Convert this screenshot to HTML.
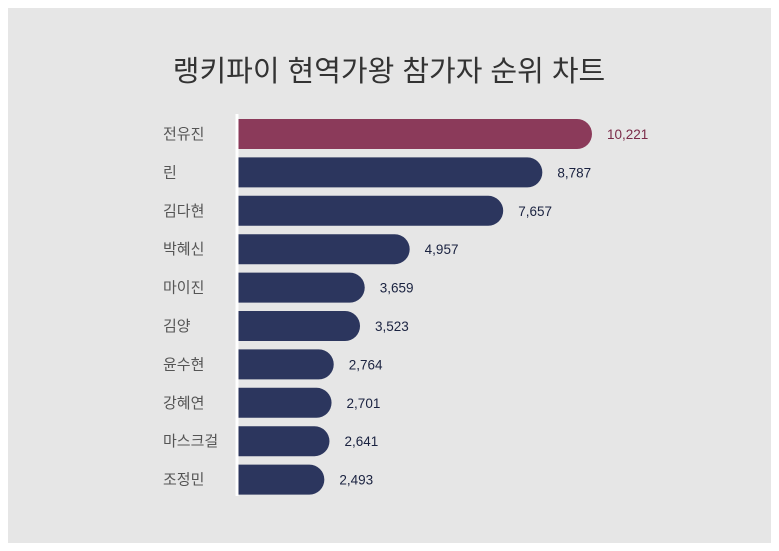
<!DOCTYPE html>
<html><head><meta charset="utf-8"><style>
body{margin:0;background:#fff;}
svg{display:block;font-family:"Liberation Sans","Noto Sans CJK KR",sans-serif;}
</style></head><body>
<svg width="779" height="551">
<rect x="8" y="8" width="763" height="535" fill="#e6e6e6"/>
<text x="389" y="81" text-anchor="middle" font-size="29" fill="#333">랭키파이 현역가왕 참가자 순위 차트</text>
<g id="bars"></g>
<rect x="235.5" y="114" width="3" height="382" fill="#ffffff"/>
</svg>
<script>
const categories=["전유진","린","김다현","박혜신","마이진","김양","윤수현","강혜연","마스크걸","조정민"];
const values=[10221,8787,7657,4957,3659,3523,2764,2701,2641,2493];
const valueLabels=["10,221","8,787","7,657","4,957","3,659","3,523","2,764","2,701","2,641","2,493"];
const x0=238, xScale=v=>x0+v*(592-238)/10221;
const yCenter=i=>134+i*38.4, bh=30;
const g=document.getElementById('bars');
const NS="http://www.w3.org/2000/svg";
categories.forEach((c,i)=>{
  const xe=xScale(values[i]), yc=yCenter(i), r=bh/2;
  const col=i===0?"#8b3a5a":"#2c365e";
  const p=document.createElementNS(NS,'path');
  p.setAttribute('d',`M${x0},${yc-r} H${xe-r} A${r},${r} 0 0 1 ${xe-r},${yc+r} H${x0} Z`);
  p.setAttribute('fill',col);
  
  
  g.appendChild(p);
  const t=document.createElementNS(NS,'text');
  t.setAttribute('x',163);t.setAttribute('y',yc+5);t.setAttribute('font-size','15');t.setAttribute('fill','#555');
  t.textContent=c;
  
  
  g.appendChild(t);
  const v=document.createElementNS(NS,'text');
  v.setAttribute('x',xe+15);v.setAttribute('y',yc+5);v.setAttribute('font-size','13.5');
  v.setAttribute('fill',i===0?"#7a2a48":"#1a2240");
  v.textContent=valueLabels[i];
  
  
  g.appendChild(v);
});
</script>
</body></html>
